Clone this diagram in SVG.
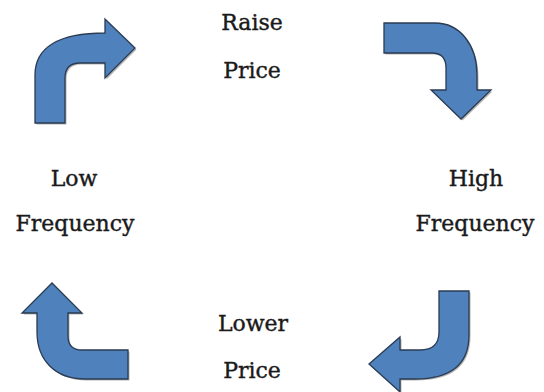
<svg xmlns="http://www.w3.org/2000/svg" width="544" height="392" viewBox="0 0 544 392">
<defs>
<style>
.arr{fill:#4f81bd;stroke:#2a3b52;stroke-width:1.3;stroke-linejoin:miter}
.sh{fill:#7a7a7a;opacity:0.55}
.lbl{font-family:"DejaVu Serif","Liberation Serif",serif;font-size:22px;fill:#1a1a1a;stroke:#1a1a1a;stroke-width:0.4;text-anchor:middle}
</style>
</defs>
<rect width="544" height="392" fill="#ffffff"/>
<g id="connectors">
<g id="arrow-top-left">
<path class="sh" transform="translate(1.5,1.5)" d="M35,123 L35,75 C35,48 58,33 105,33 L105,19 L135,48 L105,78 L105,63 L80,63 Q65,63 65,78 L65,123 Z"/>
<path class="arr" d="M35,123 L35,75 C35,48 58,33 105,33 L105,19 L135,48 L105,78 L105,63 L80,63 Q65,63 65,78 L65,123 Z"/>
</g>
<g id="arrow-top-right">
<path class="sh" transform="translate(1.5,1.5)" d="M384,23 L435,23 C460,23 477,45 477,75 L477,90 L491,90 L461,119 L431,90 L446,90 L446,68 Q446,53 432,53 L384,53 Z"/>
<path class="arr" d="M384,23 L435,23 C460,23 477,45 477,75 L477,90 L491,90 L461,119 L431,90 L446,90 L446,68 Q446,53 432,53 L384,53 Z"/>
</g>
<g id="arrow-bottom-right">
<path class="sh" transform="translate(1.5,1.5)" d="M439,291 L469,291 L469,335 C469,365 450,379 415,379 L400,379 L400,392 L369,364 L400,337 L400,350 L420,350 Q439,350 439,332 Z"/>
<path class="arr" d="M439,291 L469,291 L469,335 C469,365 450,379 415,379 L400,379 L400,392 L369,364 L400,337 L400,350 L420,350 Q439,350 439,332 Z"/>
</g>
<g id="arrow-bottom-left">
<path class="sh" transform="translate(1.5,1.5)" d="M128,350 L82,350 Q68,350 68,336 L68,313 L82,313 L52,283 L22,313 L37,313 L37,332 C37,360 55,379 85,379 L128,379 Z"/>
<path class="arr" d="M128,350 L82,350 Q68,350 68,336 L68,313 L82,313 L52,283 L22,313 L37,313 L37,332 C37,360 55,379 85,379 L128,379 Z"/>
</g>
</g>
<g id="node-raise-price">
<text class="lbl" x="252" y="30">Raise</text>
<text class="lbl" x="252" y="78">Price</text>
</g>
<g id="node-high-frequency">
<text class="lbl" x="476" y="186">High</text>
<text class="lbl" x="475" y="231">Frequency</text>
</g>
<g id="node-lower-price">
<text class="lbl" x="253" y="331">Lower</text>
<text class="lbl" x="252" y="378">Price</text>
</g>
<g id="node-low-frequency">
<text class="lbl" x="74" y="186">Low</text>
<text class="lbl" x="75" y="231">Frequency</text>
</g>
</svg>
